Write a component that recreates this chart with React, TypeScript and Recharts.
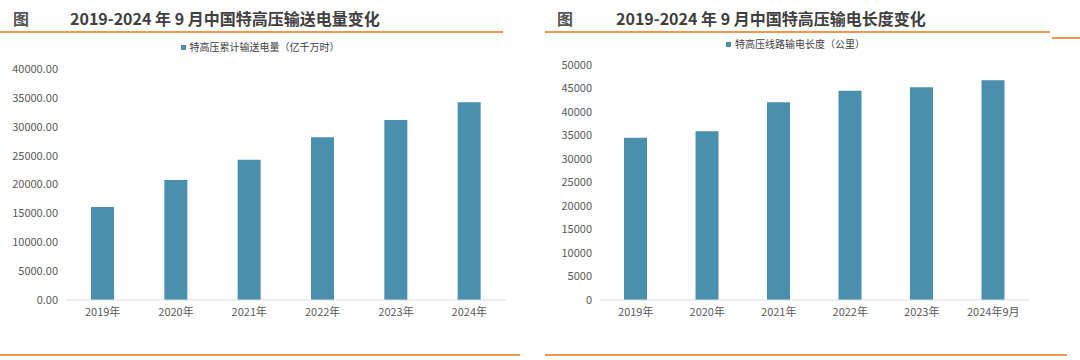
import { BarChart, Bar, XAxis, YAxis, Legend } from 'recharts'

const years = ['2019年', '2020年', '2021年', '2022年', '2023年', '2024年']
const yearsRight = ['2019年', '2020年', '2021年', '2022年', '2023年', '2024年9月']
const transmission = [16100, 20800, 24300, 28200, 31150, 34250]
const lineLength = [34500, 35900, 42100, 44500, 45250, 46750]
const leftTicks = [0, 5000, 10000, 15000, 20000, 25000, 30000, 35000, 40000]
const rightTicks = [0, 5000, 10000, 15000, 20000, 25000, 30000, 35000, 40000, 45000, 50000]

const BLUE = '#4A8FAD'
const ORANGE = '#F0964F'
const CJK = '"Noto Sans CJK SC", "Noto Sans", sans-serif'

const leftData = years.map((y, i) => ({ year: y, value: transmission[i] }))
const rightData = yearsRight.map((y, i) => ({ year: y, value: lineLength[i] }))

const tickStyle = { fontSize: 11, fill: '#595959', fontFamily: CJK }

function Title({ x, textX, text }: { x: number; textX: number; text: string }) {
  return (
    <>
      <div style={{ position: 'absolute', left: x, top: 6, fontSize: 16, fontWeight: 700, color: '#555', fontFamily: CJK }}>图</div>
      <div style={{ position: 'absolute', left: textX, top: 6, fontSize: 16, fontWeight: 700, color: '#404040', fontFamily: CJK, whiteSpace: 'nowrap' }}>
        {text}
      </div>
    </>
  )
}

function Line({ x, y, w }: { x: number; y: number; w: number }) {
  return <div style={{ position: 'absolute', left: x, top: y, width: w, height: 2, background: ORANGE }} />
}

const legendText = (value: string) => <span style={{ color: '#404040', fontSize: 10, fontFamily: CJK }}>{value}</span>

export default function App() {
  return (
    <div style={{ position: 'absolute', left: 0, top: 0, width: 1080, height: 360, background: '#fff', overflow: 'hidden' }}>
      <Title x={13} textX={70} text="2019-2024 年 9 月中国特高压输送电量变化" />
      <Title x={557} textX={616} text="2019-2024 年 9 月中国特高压输电长度变化" />
      <Line x={0} y={31} w={503} />
      <Line x={545} y={31} w={505} />
      <Line x={1052} y={37} w={28} />
      <Line x={0} y={354} w={520} />
      <Line x={545} y={354} w={522} />

      <div style={{ position: 'absolute', left: 0, top: 0 }}>
        <BarChart width={520} height={360} data={leftData} margin={{ top: 52, right: 14, left: 0, bottom: 30 }} barSize={23}>
          <Legend
            verticalAlign="top"
            align="center"
            iconType="square"
            iconSize={5}
            formatter={legendText}
            wrapperStyle={{ top: 38, left: 12, lineHeight: '16px' }}
          />
          <XAxis dataKey="year" tickLine={false} axisLine={{ stroke: '#D9D9D9' }} tick={tickStyle} height={30} interval={0} />
          <YAxis
            domain={[0, 40000]}
            ticks={leftTicks}
            tickLine={false}
            axisLine={false}
            width={66}
            tick={tickStyle}
            tickFormatter={(v: number) => v.toFixed(2)}
            interval={0}
          />
          <Bar dataKey="value" name="特高压累计输送电量（亿千万时）" fill={BLUE} isAnimationActive={false} />
        </BarChart>
      </div>

      <div style={{ position: 'absolute', left: 540, top: 0 }}>
        <BarChart width={500} height={360} data={rightData} margin={{ top: 48, right: 11, left: 0, bottom: 30 }} barSize={23}>
          <Legend
            verticalAlign="top"
            align="center"
            iconType="square"
            iconSize={5}
            formatter={legendText}
            wrapperStyle={{ top: 35, left: 16, lineHeight: '16px' }}
          />
          <XAxis dataKey="year" tickLine={false} axisLine={{ stroke: '#D9D9D9' }} tick={tickStyle} height={30} interval={0} />
          <YAxis
            domain={[0, 50000]}
            ticks={rightTicks}
            tickLine={false}
            axisLine={false}
            width={60}
            tick={tickStyle}
            interval={0}
          />
          <Bar dataKey="value" name="特高压线路输电长度（公里）" fill={BLUE} isAnimationActive={false} />
        </BarChart>
      </div>
    </div>
  )
}
